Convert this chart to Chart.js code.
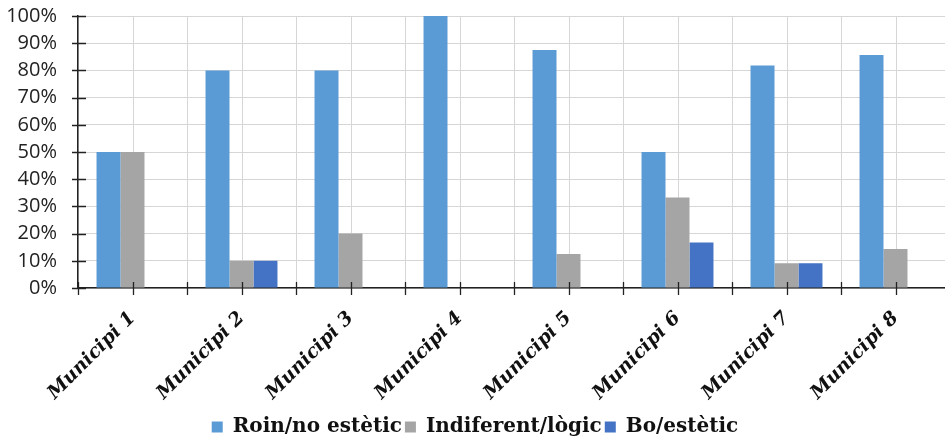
<!DOCTYPE html>
<html>
<head>
<meta charset="utf-8">
<script src="https://cdn.jsdelivr.net/npm/chart.js@4.4.1/dist/chart.umd.min.js"></script>
<style>
html,body{margin:0;padding:0;background:#fff;overflow:hidden;}
#wrap{width:960px;height:438px;}
</style>
</head>
<body>
<div id="wrap"><canvas id="c" width="960" height="438"></canvas></div>
<script>
const categories = ["Municipi 1","Municipi 2","Municipi 3","Municipi 4","Municipi 5","Municipi 6","Municipi 7","Municipi 8"];
const seriesNames = ["Roin/no estètic","Indiferent/lògic","Bo/estètic"];
const roin = [50, 80, 80, 100, 87.5, 50, 81.8, 85.7];
const indiferent = [50, 10, 20, 0, 12.5, 33.3, 9.1, 14.3];
const bo = [0, 10, 0, 0, 0, 16.7, 9.1, 0];
const yTicks = [0,10,20,30,40,50,60,70,80,90,100];
const colors = ["#5B9BD5","#A5A5A5","#4472C4"];

// extra vertical gridlines at category centres (drawn under the bars)
const centreGrid = {
  id: 'centreGrid',
  beforeDatasetsDraw(chart){
    const ctx = chart.ctx, x = chart.scales.x, a = chart.chartArea;
    ctx.save();
    ctx.strokeStyle = '#d6d6d6';
    ctx.lineWidth = 1;
    ctx.beginPath();
    for (let i=0;i<categories.length;i++){
      const p = Math.round(x.getPixelForValue(i))+0.5;
      ctx.moveTo(p, a.top); ctx.lineTo(p, a.bottom);
    }
    ctx.stroke();
    ctx.restore();
  }
};

const crossTicks = {
  id: 'crossTicks',
  afterDraw(chart){
    const ctx = chart.ctx;
    const x = chart.scales.x, y = chart.scales.y;
    const left = chart.chartArea.left, bottom = chart.chartArea.bottom;
    ctx.save();
    ctx.strokeStyle = '#222';
    ctx.lineWidth = 1.3;
    ctx.beginPath();
    y.ticks.forEach((t,i)=>{
      const py = Math.round(y.getPixelForTick(i))+0.5;
      ctx.moveTo(left-6, py); ctx.lineTo(left+8, py);
    });
    const half = (x.getPixelForValue(1)-x.getPixelForValue(0))/2;
    for (let i=0;i<categories.length;i++){
      const c = x.getPixelForValue(i);
      [c-half, c].forEach(px=>{
        const p = Math.round(px)+0.5;
        ctx.moveTo(p, bottom-6); ctx.lineTo(p, bottom+7);
      });
    }
    ctx.stroke();
    ctx.restore();
  }
};

new Chart(document.getElementById('c'), {
  type: 'bar',
  data: {
    labels: categories,
    datasets: [
      {label: seriesNames[0], data: roin, backgroundColor: colors[0]},
      {label: seriesNames[1], data: indiferent, backgroundColor: colors[1]},
      {label: seriesNames[2], data: bo, backgroundColor: colors[2]}
    ]
  },
  options: {
    responsive: false,
    animation: false,
    categoryPercentage: 0.66,
    barPercentage: 1.0,
    layout: {padding: {left: 0, right: 10, top: 16, bottom: -9}},
    plugins: {
      tooltip: {enabled: false},
      legend: {
        position: 'bottom',
        labels: {
          boxWidth: 11, boxHeight: 11, padding: 3,
          color: '#111',
          font: {family: 'DejaVu Serif', weight: 'bold', size: 20}
        }
      }
    },
    scales: {
      x: {
        offset: true,
        grid: {offset: true, color: '#d6d6d6', lineWidth: 1, drawTicks: false},
        border: {display: true, color: '#222', width: 1.5},
        ticks: {
          minRotation: 45, maxRotation: 45, padding: 19, autoSkip: false,
          color: '#111',
          font: {family: 'DejaVu Serif', weight: 'bold', style: 'italic', size: 19}
        },
        afterFit(s){ s.height = 126; }
      },
      y: {
        min: 0, max: 100,
        afterBuildTicks(s){ s.ticks = yTicks.map(v=>({value: v})); },
        grid: {color: '#d6d6d6', lineWidth: 1, drawTicks: true, tickLength: 21, tickColor: 'rgba(0,0,0,0)'},
        border: {display: true, color: '#222', width: 1.5},
        ticks: {
          autoSkip: false,
          padding: 0,
          color: '#222',
          font: {family: 'Open Sans', size: 20},
          callback: v => v + '%'
        },
        afterFit(s){ s.width = 78; }
      }
    }
  },
  plugins: [centreGrid, crossTicks]
});
</script>
</body>
</html>
